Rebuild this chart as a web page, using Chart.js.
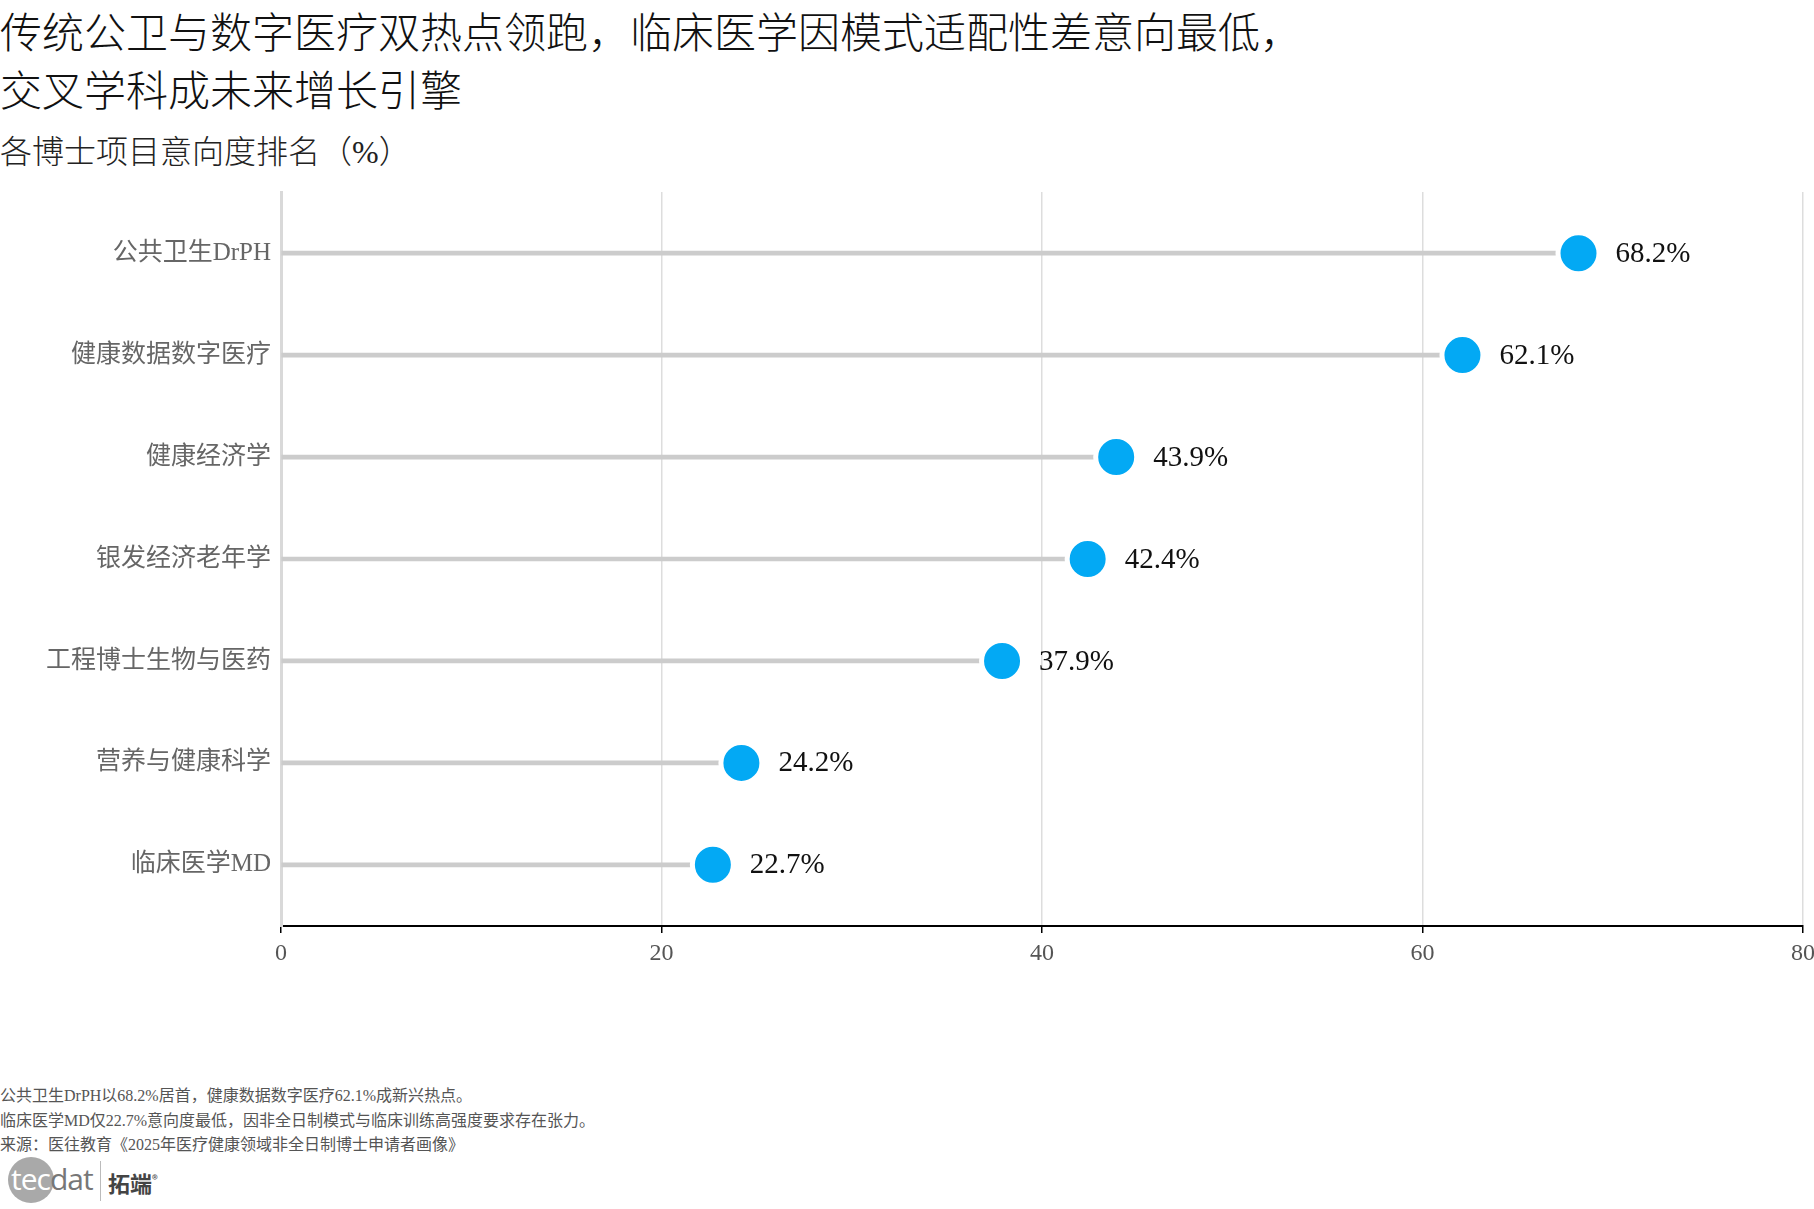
<!DOCTYPE html>
<html>
<head>
<meta charset="utf-8">
<script src="https://cdn.jsdelivr.net/npm/chart.js@4.4.1/dist/chart.umd.min.js"></script>
<style>
  body { margin: 0; background: #fff; width: 1814px; height: 1209px; position: relative; overflow: hidden;
         font-family: "Liberation Serif", "Noto Sans CJK SC", serif; }
  .title { position: absolute; left: 0; top: 5px; font-size: 42px; line-height: 58px; color: #111; font-weight: 300; }
  .subtitle { position: absolute; left: 0; top: 132px; font-size: 32px; line-height: 40px; color: #222; font-weight: 300; }
  .wrap { position: absolute; left: 0; top: 180px; width: 1814px; height: 806px; }
  .notes { position: absolute; left: 0; top: 1084px; font-size: 16px; line-height: 24.5px; color: #555; }
  .logo { position: absolute; left: 8px; top: 1157px; height: 48px; width: 200px; }
  .logo .dot { position: absolute; left: 0; top: 0; width: 46px; height: 46px; border-radius: 50%; background: #a9a9a9; }
  .logo .tec { position: absolute; left: 3px; top: 3px; font: 30px/38px "Open Sans", sans-serif; color: #fff; letter-spacing: -1px; }
  .logo .tec span { color: #777; }
  .logo .sep { position: absolute; left: 92px; top: 4px; width: 1px; height: 40px; background: #bbb; }
  .logo .cn { position: absolute; left: 100px; top: 7px; font: bold 22px/30px "Noto Sans CJK SC", sans-serif; color: #444; }
  .logo .cn sup { font-size: 12px; font-weight: normal; }
</style>
</head>
<body>
<div class="title">传统公卫与数字医疗双热点领跑，临床医学因模式适配性差意向最低，<br>交叉学科成未来增长引擎</div>
<div class="subtitle">各博士项目意向度排名（%）</div>
<div class="wrap"><canvas id="chart"></canvas></div>
<div class="notes">
  公共卫生DrPH以68.2%居首，健康数据数字医疗62.1%成新兴热点。<br>
  临床医学MD仅22.7%意向度最低，因非全日制模式与临床训练高强度要求存在张力。<br>
  来源：医往教育《2025年医疗健康领域非全日制博士申请者画像》
</div>
<div class="logo">
  <div class="dot"></div>
  <div class="tec">tec<span>dat</span></div>
  <div class="sep"></div>
  <div class="cn">拓端<sup>®</sup></div>
</div>
<script>
const programs = ['公共卫生DrPH', '健康数据数字医疗', '健康经济学', '银发经济老年学', '工程博士生物与医药', '营养与健康科学', '临床医学MD'];
const intention = [68.2, 62.1, 43.9, 42.4, 37.9, 24.2, 22.7];
const xTicks = [0, 20, 40, 60, 80];

const serif = '"Liberation Serif", "Noto Sans CJK SC", serif';

const points = intention.map((v, i) => ({ x: v, y: i }));

const valueLabels = {
  id: 'valueLabels',
  afterDatasetsDraw(chart) {
    const ctx = chart.ctx;
    const meta = chart.getDatasetMeta(1);
    ctx.save();
    ctx.font = '29px ' + serif;
    ctx.fillStyle = '#111';
    ctx.textAlign = 'left';
    ctx.textBaseline = 'middle';
    meta.data.forEach((pt, i) => {
      ctx.fillText(intention[i].toFixed(1) + '%', pt.x + 37, pt.y + 1);
    });
    ctx.restore();
  }
};

new Chart(document.getElementById('chart'), {
  type: 'bar',
  data: {
    datasets: [
      {
        type: 'bar',
        data: points,
        backgroundColor: '#cccccc',
        barThickness: 4,
        order: 2,
      },
      {
        type: 'scatter',
        data: points,
        pointRadius: 20.5,
        pointHoverRadius: 20.5,
        pointBackgroundColor: '#03a9f4',
        pointBorderColor: '#ffffff',
        pointBorderWidth: 5,
        clip: false,
        order: 1,
      },
    ],
  },
  options: {
    indexAxis: 'y',
    responsive: true,
    maintainAspectRatio: false,
    animation: false,
    layout: { autoPadding: false, padding: { top: 12, right: 11, bottom: 0, left: 0 } },
    plugins: {
      legend: { display: false },
      tooltip: { enabled: false },
    },
    scales: {
      x: {
        type: 'linear',
        min: 0,
        max: 80,
        afterBuildTicks: (scale) => { scale.ticks = xTicks.map((v) => ({ value: v })); },
        afterFit: (scale) => { scale.height = 60; scale.paddingLeft = 0; scale.paddingRight = 0; },
        grid: { color: '#dddddd', lineWidth: 1.5, tickColor: '#000', tickLength: 7 },
        border: { display: true, color: '#000', width: 2 },
        ticks: { color: '#555', font: { family: serif, size: 24 }, padding: 6, maxRotation: 0 },
      },
      y: {
        type: 'linear',
        offset: false,
        min: -0.6,
        max: 6.6,
        reverse: true,
        afterBuildTicks: (scale) => { scale.ticks = programs.map((_, i) => ({ value: i })); },
        afterFit: (scale) => { scale.width = 281; scale.paddingTop = 0; scale.paddingBottom = 0; },
        grid: { display: false, drawTicks: false },
        border: { display: true, color: '#d9d9d9', width: 3 },
        ticks: {
          color: '#666',
          font: { family: serif, size: 25 },
          padding: 10,
          callback: (v) => programs[v] ?? '',
        },
      },
    },
  },
  plugins: [valueLabels],
});
</script>
</body>
</html>
